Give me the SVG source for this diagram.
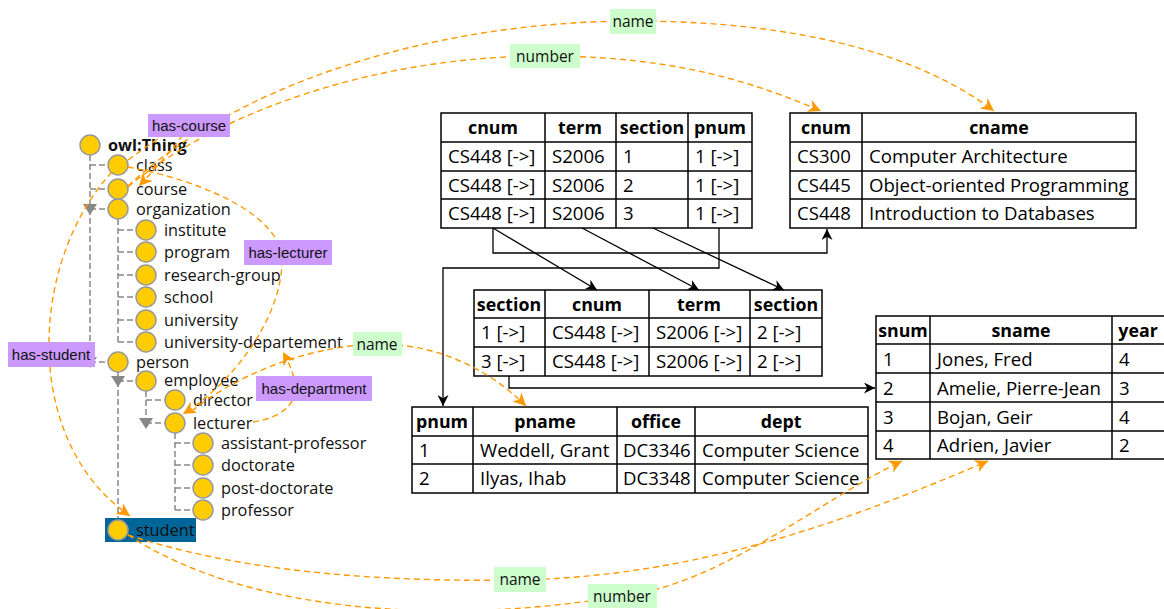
<svg xmlns="http://www.w3.org/2000/svg" width="1164" height="609" viewBox="0 0 1164 609">
<style>
.bg{fill:#fff}
.tl{font-family:"Open Sans","Noto Sans",sans-serif;font-size:16.3px;fill:#111}
.tb{font-family:"Open Sans","Noto Sans",sans-serif;font-size:18.6px;fill:#000}
.th{font-family:"Open Sans","Noto Sans",sans-serif;font-size:17.8px;font-weight:bold;fill:#000;text-anchor:middle}
.cell{fill:#fff;stroke:#000;stroke-width:1.5}
.circ{fill:#ffcc00;stroke:#999;stroke-width:1.5}
.tree{fill:none;stroke:#888;stroke-width:1.5;stroke-dasharray:6 3}
.tri{fill:#888}
.blk{fill:none;stroke:#000;stroke-width:1.3}
.org{fill:none;stroke:#ff9900;stroke-width:1.4;stroke-dasharray:6 4}
.pl{fill:#cc99ff}
.gl{fill:#ccffcc}
.plt{font-family:"Liberation Sans",Arial,sans-serif;font-size:15px;fill:#111;text-anchor:middle}
.glt{font-family:"Open Sans","Noto Sans",sans-serif;font-size:15.5px;fill:#111;text-anchor:middle}
</style>
<defs>
<marker id="ab" viewBox="0 0 10 10" refX="10" refY="5" markerWidth="11" markerHeight="11" markerUnits="userSpaceOnUse" orient="auto"><path d="M0,0 L10,5 L0,10 L3,5 z" fill="#000"/></marker>
<marker id="ao" viewBox="0 0 10 10" refX="10" refY="5" markerWidth="13" markerHeight="13" markerUnits="userSpaceOnUse" orient="auto"><path d="M0,0 L10,5 L0,10 L3,5 z" fill="#ff9900"/></marker>
</defs>
<rect class="bg" x="0" y="0" width="1164" height="609"/>

<g id="tree-lines">
<path class="tree" d="M90,155 V362 M90,165 H108 M90,189 H108 M90,209 H108 M90,362 H108"/>
<path class="tree" d="M118,219 V342 M118,230 H136 M118,252 H136 M118,275 H136 M118,297 H136 M118,320 H136 M118,342 H136"/>
<path class="tree" d="M118,372 V520 M118,381 H136"/>
<path class="tree" d="M146,391 V423 M146,400 H165 M146,423 H165"/>
<path class="tree" d="M175,433 V510 M175,443 H193 M175,465 H193 M175,488 H193 M175,510 H193"/>
<polygon class="tri" points="83,204 97,204 90,215"/>
<polygon class="tri" points="83,357 97,357 90,368"/>
<polygon class="tri" points="111,376 125,376 118,387"/>
<polygon class="tri" points="139,418 153,418 146,429"/>
</g>

<g id="node-student"><rect x="105" y="518" width="91" height="24" fill="#006699"/><circle class="circ" cx="118" cy="530" r="10"/><text class="tl" x="136" y="536">student</text></g>
<g id="node-owlthing"><circle class="circ" cx="90" cy="145" r="10"/><text class="tl" x="108" y="151" font-weight="bold">owl:Thing</text></g>
<g id="node-class"><circle class="circ" cx="118" cy="165" r="10"/><text class="tl" x="136" y="171">class</text></g>
<g id="node-course"><circle class="circ" cx="118" cy="189" r="10"/><text class="tl" x="136" y="195">course</text></g>
<g id="node-organization"><circle class="circ" cx="118" cy="209" r="10"/><text class="tl" x="136" y="215">organization</text></g>
<g id="node-institute"><circle class="circ" cx="146" cy="230" r="10"/><text class="tl" x="164" y="236">institute</text></g>
<g id="node-program"><circle class="circ" cx="146" cy="252" r="10"/><text class="tl" x="164" y="258">program</text></g>
<g id="node-research-group"><circle class="circ" cx="146" cy="275" r="10"/><text class="tl" x="164" y="281">research-group</text></g>
<g id="node-school"><circle class="circ" cx="146" cy="297" r="10"/><text class="tl" x="164" y="303">school</text></g>
<g id="node-university"><circle class="circ" cx="146" cy="320" r="10"/><text class="tl" x="164" y="326">university</text></g>
<g id="node-university-departement"><circle class="circ" cx="146" cy="342" r="10"/><text class="tl" x="164" y="348">university-departement</text></g>
<g id="node-person"><circle class="circ" cx="118" cy="362" r="10"/><text class="tl" x="136" y="368">person</text></g>
<g id="node-employee"><circle class="circ" cx="146" cy="381" r="10"/><text class="tl" x="164" y="386">employee</text></g>
<g id="node-director"><circle class="circ" cx="175" cy="400" r="10"/><text class="tl" x="193" y="406">director</text></g>
<g id="node-lecturer"><circle class="circ" cx="175" cy="423" r="10"/><text class="tl" x="193" y="429">lecturer</text></g>
<g id="node-assistant-professor"><circle class="circ" cx="203" cy="443" r="10"/><text class="tl" x="221" y="449">assistant-professor</text></g>
<g id="node-doctorate"><circle class="circ" cx="203" cy="465" r="10"/><text class="tl" x="221" y="471">doctorate</text></g>
<g id="node-post-doctorate"><circle class="circ" cx="203" cy="488" r="10"/><text class="tl" x="221" y="494">post-doctorate</text></g>
<g id="node-professor"><circle class="circ" cx="203" cy="510" r="10"/><text class="tl" x="221" y="516">professor</text></g>

<g id="table-section">
<rect class="cell" x="441" y="113" width="311" height="115"/>
<path class="cell" d="M441,142 H752 M441,171 H752 M441,199 H752 M545,113 V228 M616,113 V228 M688,113 V228"/>
<text class="th" x="493" y="134">cnum</text><text class="th" x="580" y="134">term</text><text class="th" x="652" y="134">section</text><text class="th" x="720" y="134">pnum</text>
<text class="tb" x="448" y="163">CS448 [-&gt;]</text><text class="tb" x="552" y="163">S2006</text><text class="tb" x="623" y="163">1</text><text class="tb" x="695" y="163">1 [-&gt;]</text>
<text class="tb" x="448" y="192">CS448 [-&gt;]</text><text class="tb" x="552" y="192">S2006</text><text class="tb" x="623" y="192">2</text><text class="tb" x="695" y="192">1 [-&gt;]</text>
<text class="tb" x="448" y="220">CS448 [-&gt;]</text><text class="tb" x="552" y="220">S2006</text><text class="tb" x="623" y="220">3</text><text class="tb" x="695" y="220">1 [-&gt;]</text>
</g>

<g id="table-course">
<rect class="cell" x="790" y="113" width="346" height="115"/>
<path class="cell" d="M790,142 H1136 M790,171 H1136 M790,199 H1136 M862,113 V228"/>
<text class="th" x="826" y="134">cnum</text><text class="th" x="999" y="134">cname</text>
<text class="tb" x="797" y="163">CS300</text><text class="tb" x="869" y="163">Computer Architecture</text>
<text class="tb" x="797" y="192">CS445</text><text class="tb" x="869" y="192">Object-oriented Programming</text>
<text class="tb" x="797" y="220">CS448</text><text class="tb" x="869" y="220">Introduction to Databases</text>
</g>

<g id="table-enrollment">
<rect class="cell" x="474" y="290" width="348" height="86"/>
<path class="cell" d="M474,318 H822 M474,347 H822 M545,290 V376 M649,290 V376 M750,290 V376"/>
<text class="th" x="509" y="311">section</text><text class="th" x="597" y="311">cnum</text><text class="th" x="699" y="311">term</text><text class="th" x="786" y="311">section</text>
<text class="tb" x="481" y="339">1 [-&gt;]</text><text class="tb" x="552" y="339">CS448 [-&gt;]</text><text class="tb" x="656" y="339">S2006 [-&gt;]</text><text class="tb" x="757" y="339">2 [-&gt;]</text>
<text class="tb" x="481" y="368">3 [-&gt;]</text><text class="tb" x="552" y="368">CS448 [-&gt;]</text><text class="tb" x="656" y="368">S2006 [-&gt;]</text><text class="tb" x="757" y="368">2 [-&gt;]</text>
</g>

<g id="table-professor">
<rect class="cell" x="412" y="407" width="456" height="86"/>
<path class="cell" d="M412,436 H868 M412,464 H868 M473,407 V493 M617,407 V493 M695,407 V493"/>
<text class="th" x="442" y="428">pnum</text><text class="th" x="545" y="428">pname</text><text class="th" x="656" y="428">office</text><text class="th" x="781" y="428">dept</text>
<text class="tb" x="419" y="457">1</text><text class="tb" x="480" y="457">Weddell, Grant</text><text class="tb" x="623" y="457">DC3346</text><text class="tb" x="702" y="457">Computer Science</text>
<text class="tb" x="419" y="485">2</text><text class="tb" x="480" y="485">Ilyas, Ihab</text><text class="tb" x="623" y="485">DC3348</text><text class="tb" x="702" y="485">Computer Science</text>
</g>

<g id="table-student">
<rect class="cell" x="876" y="316" width="290" height="143"/>
<path class="cell" d="M876,344 H1166 M876,373 H1166 M876,402 H1166 M876,431 H1166 M930,316 V459 M1112,316 V459"/>
<text class="th" x="903" y="337">snum</text><text class="th" x="1021" y="337">sname</text><text class="th" x="1138" y="337">year</text>
<text class="tb" x="883" y="366">1</text><text class="tb" x="937" y="366">Jones, Fred</text><text class="tb" x="1119" y="366">4</text>
<text class="tb" x="883" y="395">2</text><text class="tb" x="937" y="395">Amelie, Pierre-Jean</text><text class="tb" x="1119" y="395">3</text>
<text class="tb" x="883" y="424">3</text><text class="tb" x="937" y="424">Bojan, Geir</text><text class="tb" x="1119" y="424">4</text>
<text class="tb" x="883" y="452">4</text><text class="tb" x="937" y="452">Adrien, Javier</text><text class="tb" x="1119" y="452">2</text>
</g>

<g id="connectors">
<path class="blk" d="M493,228 V253 H827 V229" marker-end="url(#ab)"/>
<path class="blk" d="M719,228 V268 H443 V406" marker-end="url(#ab)"/>
<path class="blk" d="M493,228 L597,290" marker-end="url(#ab)"/>
<path class="blk" d="M582,228 L699,290" marker-end="url(#ab)"/>
<path class="blk" d="M653,228 L784,290" marker-end="url(#ab)"/>
<path class="blk" d="M509,376 V388 H875" marker-end="url(#ab)"/>
<path class="org" d="M128,160 Q240,78 139,186" marker-end="url(#ao)"/>
<path class="org" d="M128,187 C220,110 380,56 545,56 C680,56 760,85 821,111" marker-end="url(#ao)"/>
<path class="org" d="M128,186 C230,90 420,22 632,21 C800,21 920,55 994,111" marker-end="url(#ao)"/>
<path class="org" d="M128,167 C200,180 282,215 282,260 C282,320 230,385 183,414" marker-end="url(#ao)"/>
<path class="org" d="M253,422 C280,418 295,405 295,390 C295,375 290,365 283,352" marker-end="url(#ao)"/>
<path class="org" d="M192,411 C230,380 300,346 378,344 C450,344 500,380 526,406" marker-end="url(#ao)"/>
<path class="org" d="M112,172 C30,260 20,440 130,516" marker-end="url(#ao)"/>
<path class="org" d="M128,535 C250,575 400,582 520,580 C700,576 850,520 988,461" marker-end="url(#ao)"/>
<path class="org" d="M128,535 C250,615 450,625 622,596 C720,585 820,500 902,461" marker-end="url(#ao)"/>
</g>

<g id="label-has-course"><rect class="pl" x="148" y="114" width="82" height="23"/><text class="plt" x="189" y="131">has-course</text></g>
<g id="label-has-lecturer"><rect class="pl" x="244" y="240" width="88" height="25"/><text class="plt" x="288" y="258">has-lecturer</text></g>
<g id="label-has-student"><rect class="pl" x="8" y="342" width="87" height="25"/><text class="plt" x="51" y="360">has-student</text></g>
<g id="label-has-department"><rect class="pl" x="256" y="376" width="116" height="25"/><text class="plt" x="314" y="394">has-department</text></g>
<g id="label-name-course"><rect class="gl" x="610" y="9" width="46" height="25"/><text class="glt" x="633" y="27">name</text></g>
<g id="label-number-course"><rect class="gl" x="510" y="44" width="70" height="24"/><text class="glt" x="545" y="62">number</text></g>
<g id="label-name-lecturer"><rect class="gl" x="353" y="332" width="49" height="24"/><text class="glt" x="377" y="350">name</text></g>
<g id="label-name-student"><rect class="gl" x="494" y="567" width="52" height="25"/><text class="glt" x="520" y="585">name</text></g>
<g id="label-number-student"><rect class="gl" x="588" y="584" width="69" height="24"/><text class="glt" x="622" y="602">number</text></g>
</svg>
